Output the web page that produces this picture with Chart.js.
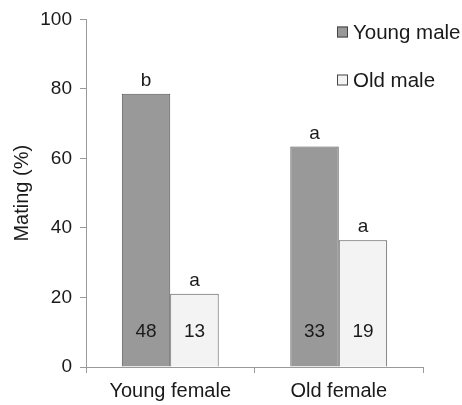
<!DOCTYPE html>
<html>
<head>
<meta charset="utf-8">
<script src="https://cdn.jsdelivr.net/npm/chart.js@4"></script>
<style>
  html, body { margin: 0; padding: 0; background: #fff; }
  #wrap { width: 462px; height: 405px; }
</style>
</head>
<body>
<div id="wrap"><canvas id="chart1"></canvas></div>
<script>
// -- THE DATA --

const groups = ["Young female", "Old female"];
const series_names = ["Young male", "Old male"];

const young_male_values = [78.6, 63.4];
const old_male_values = [21.1, 36.5];

// letters above the bars and sample sizes inside them
const young_male_letters = ["b", "a"];
const old_male_letters = ["a", "a"];
const young_male_counts = ["48", "33"];
const old_male_counts = ["13", "19"];

const y_ticks = [0, 20, 40, 60, 80, 100];

// -- STYLE --

const FONT = "'Liberation Sans', Arial, Helvetica, sans-serif";
const TEXT = "#1a1a1a";
const AXIS = "#9a9a9a";

Chart.defaults.font.family = FONT;
Chart.defaults.color = TEXT;

// -- PLUGIN: letters, counts and the legend --

const annotate = {
  id: "annotate",
  afterDatasetsDraw(chart) {
    const ctx = chart.ctx;
    const letters = [young_male_letters, old_male_letters];
    const counts = [young_male_counts, old_male_counts];
    ctx.save();
    ctx.fillStyle = TEXT;
    ctx.textAlign = "center";
    chart.data.datasets.forEach((ds, i) => {
      const meta = chart.getDatasetMeta(i);
      meta.data.forEach((bar, j) => {
        ctx.font = "19px " + FONT;
        ctx.textBaseline = "alphabetic";
        ctx.fillText(letters[i][j], bar.x, bar.y - 8);
        ctx.textBaseline = "middle";
        ctx.fillText(counts[i][j], bar.x, chart.scales.y.getPixelForValue(10));
      });
    });

    // legend
    const lx = 337, ly = [32, 80];
    ctx.textAlign = "left";
    ctx.textBaseline = "middle";
    ctx.font = "20.5px " + FONT;
    chart.data.datasets.forEach((ds, i) => {
      ctx.fillStyle = ds.backgroundColor;
      ctx.fillRect(lx, ly[i] - 5.5, 11, 11);
      ctx.strokeStyle = "#444";
      ctx.lineWidth = 1;
      ctx.strokeRect(lx + 0.5, ly[i] - 5, 10, 10);
      ctx.fillStyle = TEXT;
      ctx.fillText(ds.label, lx + 16, ly[i] + 1);
    });
    ctx.restore();
  }
};

// -- THE CHART --

const chart1_data_obj = {
  labels: groups,
  datasets: [
    {
      label: series_names[0],
      data: young_male_values,
      backgroundColor: "#999999",
      borderColor: "#555555",
      borderWidth: 1,
      categoryPercentage: 0.575,
      barPercentage: 1
    },
    {
      label: series_names[1],
      data: old_male_values,
      backgroundColor: "#f3f3f3",
      borderColor: "#555555",
      borderWidth: 1,
      categoryPercentage: 0.575,
      barPercentage: 1
    }
  ]
};

const chart1_chart_obj = {
  type: "bar",
  data: chart1_data_obj,
  plugins: [annotate],
  options: {
    responsive: true,
    maintainAspectRatio: false,
    animation: false,
    layout: { padding: { top: 17, right: 39, left: 0, bottom: 0 } },
    plugins: {
      legend: { display: false },
      tooltip: { enabled: false }
    },
    scales: {
      x: {
        offset: true,
        grid: {
          offset: true,
          drawOnChartArea: false,
          tickLength: 6,
          color: AXIS
        },
        border: { color: AXIS, width: 1 },
        ticks: { font: { size: 20 }, color: TEXT, padding: 6 },
        afterFit(scale) { scale.height = 38; }
      },
      y: {
        min: 0,
        max: 100,
        afterBuildTicks(scale) {
          scale.ticks = y_ticks.map(v => ({ value: v }));
        },
        grid: {
          drawOnChartArea: false,
          tickLength: 6,
          color: AXIS
        },
        border: { color: AXIS, width: 1 },
        ticks: { font: { size: 19 }, color: TEXT, padding: 8 },
        title: {
          display: true,
          text: "Mating (%)",
          font: { size: 20 },
          color: TEXT,
          padding: { top: 10, bottom: 0 }
        },
        afterFit(scale) { scale.width = 86; }
      }
    }
  }
};

new Chart("chart1", chart1_chart_obj);
</script>
</body>
</html>
